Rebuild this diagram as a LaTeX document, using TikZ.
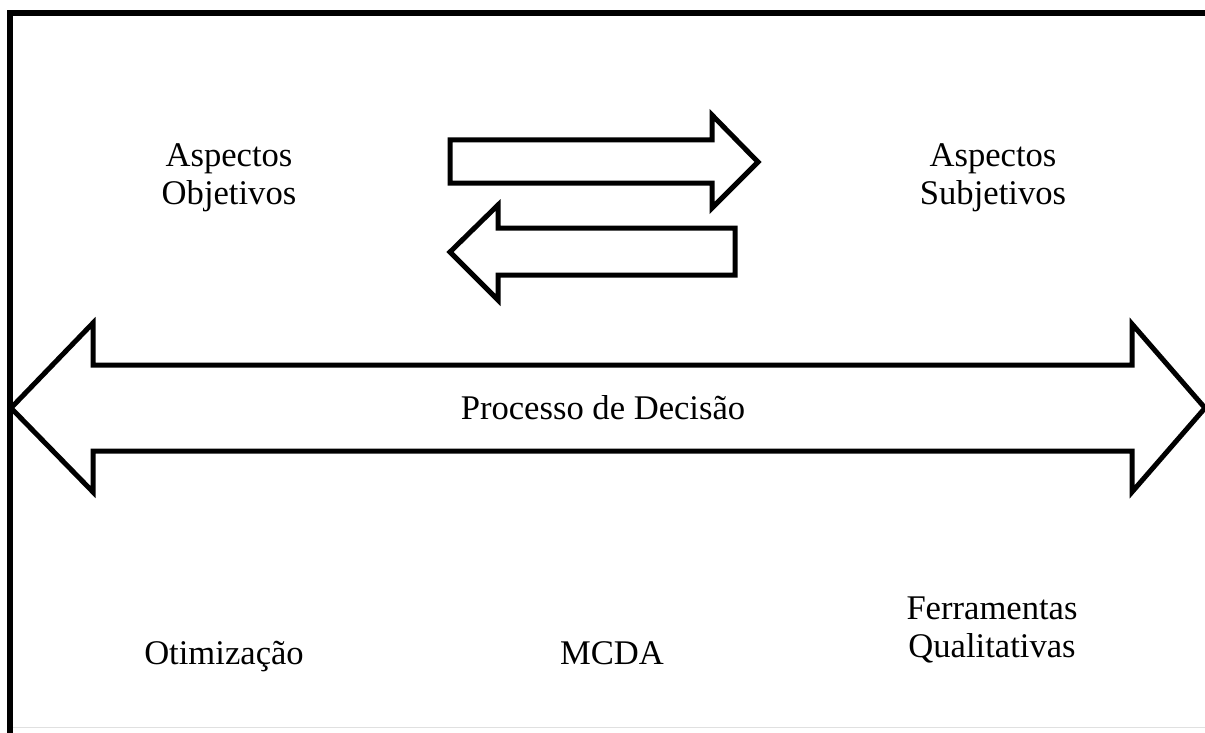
\documentclass[tikz,border=0pt]{standalone}
\usepackage{fontspec}
\setmainfont{Liberation Serif}
\usetikzlibrary{positioning}

\begin{document}
\begin{tikzpicture}[x=0.5pt, y=-0.5pt,
    txt/.style={font=\fontsize{17.3}{19}\selectfont, align=center},
    seta/.style={draw, line width=2.5pt, line join=miter, fill=white}]
  \useasboundingbox (0,0) rectangle (1205,733);
  % moldura
  \draw[line width=3pt] (10,733) -- (10,13) -- (1205,13);
  \draw[black!12, line width=0.5pt] (13,727) -- (1205,727);
  % setas do meio
  \draw[seta] (450,140) -- (712,140) -- (712,115) -- (758,162) -- (712,208)
    -- (712,183) -- (450,183) -- cycle;
  \draw[seta] (735,228) -- (498,228) -- (498,205) -- (450,252) -- (498,300)
    -- (498,275) -- (735,275) -- cycle;
  % seta dupla
  \draw[seta] (11,408) -- (93,323) -- (93,365) -- (1132,365) -- (1132,324)
    -- (1205,408) -- (1132,492) -- (1132,451) -- (93,451) -- (93,492) -- cycle;
  \node[txt] (objetivos) at (229,178) {Aspectos\\Objetivos};
  \node[txt] (subjetivos) at (993,178) {Aspectos\\Subjetivos};
  \node[txt, anchor=base] (decisao) at (603,419) {Processo de Decisão};
  \node[txt, anchor=base] (otimizacao) at (224,664) {Otimização};
  \node[txt, anchor=base] (mcda) at (612,664) {MCDA};
  \node[txt] (qualitativas) at (992,630) {Ferramentas\\Qualitativas};
\end{tikzpicture}
\end{document}
